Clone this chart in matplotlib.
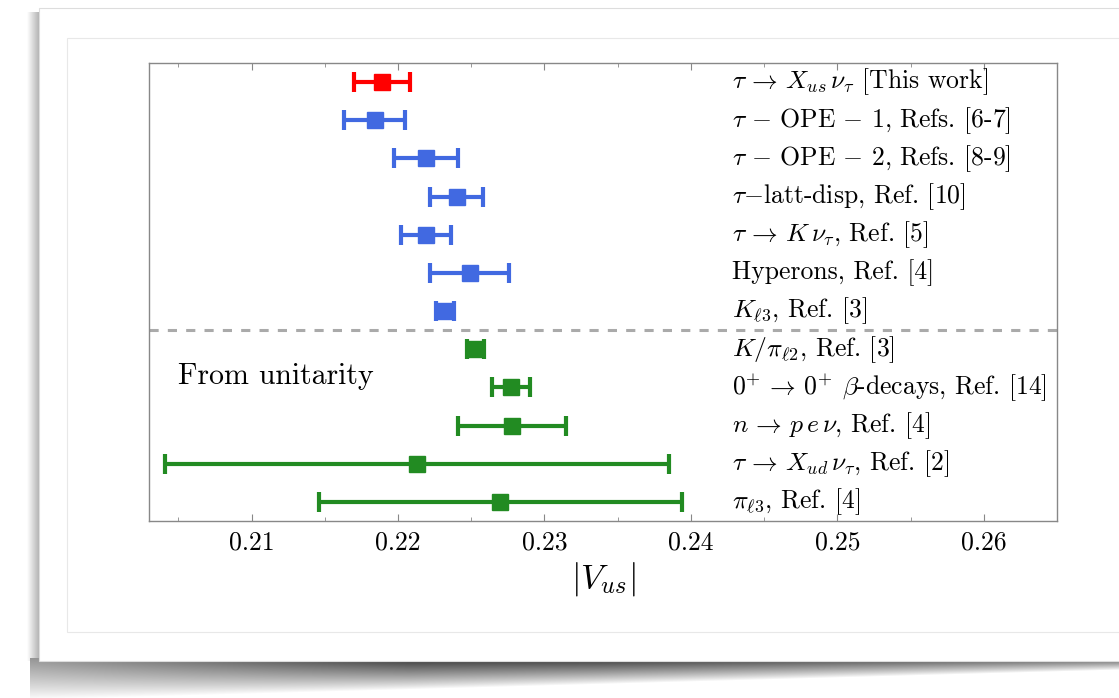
import numpy as np
import matplotlib
matplotlib.use("Agg")
from matplotlib import pyplot as plt
from matplotlib.patches import Rectangle
from matplotlib.ticker import MultipleLocator, FormatStrFormatter

plt.rcParams['font.family'] = 'serif'
plt.rcParams['font.serif'] = ['cmr10']
plt.rcParams['mathtext.fontset'] = 'cm'
plt.rcParams['axes.unicode_minus'] = False

# values
labels = [r'$\tau \,\to\, X_{us}\,\nu_\tau$ [This work]',
          r'$\tau \,-\, \mathrm{OPE} \,-\, 1$, Refs. [6-7]',
          r'$\tau \,-\, \mathrm{OPE} \,-\, 2$, Refs. [8-9]',
          r'$\tau{-}$latt-disp, Ref. [10]',
          r'$\tau \,\to\, K\,\nu_\tau$, Ref. [5]',
          'Hyperons, Ref. [4]',
          r'$K_{\ell 3}$, Ref. [3]',
          r'$K/\pi_{\ell 2}$, Ref. [3]',
          r'$0^{+} \,\to\, 0^{+}$ $\beta$-decays, Ref. [14]',
          r'$n \,\to\, p\,e\,\nu$, Ref. [4]',
          r'$\tau \,\to\, X_{ud}\,\nu_\tau$, Ref. [2]',
          r'$\pi_{\ell 3}$, Ref. [4]']
vus = [0.2189, 0.2184, 0.2219, 0.2240, 0.2219, 0.2249, 0.2232,
       0.2253, 0.2277, 0.2278, 0.2213, 0.2270]
vusErr = [0.0019, 0.0021, 0.0022, 0.0018, 0.0017, 0.0027, 0.0006,
          0.0006, 0.0013, 0.0037, 0.0172, 0.0124]
groups = ['this'] + ['direct'] * 6 + ['unitarity'] * 5
groupColors = {'this': '#ff0000', 'direct': '#4169e1', 'unitarity': '#228b22'}

W, H = 1119, 698
fig = plt.figure(figsize=(W / 100, H / 100), dpi=100)

# screenshot style card with a soft shadow behind the plot
bg = fig.add_axes([0, 0, 1, 1], zorder=-10)
px, py = np.meshgrid(np.arange(W) + 0.5, np.arange(H) + 0.5)
frac = np.clip((px - 30) / (W - 30), 0, 1)
thick = 42 - 30 * frac
dark = 0.42 + 0.38 * np.clip((px - 30) / 380, 0, 1) - 0.15 * np.clip((px - 600) / 500, 0, 1)
s = (py - 658) / thick
alpha = np.where((s >= 0) & (s <= 1) & (px >= 30), dark * (1 - s) ** 0.9, 0)
side = np.where((px >= 27) & (px < 39) & (py > 12) & (py < 661), 0.3 * (px - 27) / 12, 0)
alpha = np.maximum(alpha, side)
shadow = np.zeros((H, W, 4))
shadow[..., 3] = alpha
bg.imshow(shadow, extent=[0, W, H, 0], interpolation='bilinear')
bg.add_patch(Rectangle((39, 8), W, 653, facecolor='white', edgecolor='#dddddd', lw=0.8))
bg.add_patch(Rectangle((67, 38), W, 594, facecolor='white', edgecolor='#e8e8e8', lw=0.8))
bg.set_xlim(0, W)
bg.set_ylim(H, 0)
bg.axis('off')

ax = fig.add_axes([149 / W, 1 - 521 / H, (1057 - 149) / W, (521 - 63) / H])
rows = np.arange(len(vus))
for i in rows:
    c = groupColors[groups[i]]
    ax.errorbar(vus[i], i, xerr=vusErr[i], fmt='s', color=c, ms=11,
                elinewidth=3, capsize=7.5, capthick=3)
    ax.text(0.2428, i, labels[i], fontsize=18.5, va='center', ha='left')

ax.axhline(6.5, color='#aaaaaa', ls=(0, (3, 3)), lw=2.2)
ax.text(0.205, 7.7, 'From unitarity', fontsize=21.5, va='center', ha='left')

ax.set_xlim(0.203, 0.265)
ax.set_ylim(11.5, -0.5)
ax.set_yticks([])
ax.xaxis.set_major_locator(MultipleLocator(0.01))
ax.xaxis.set_minor_locator(MultipleLocator(0.005))
ax.xaxis.set_major_formatter(FormatStrFormatter('%.2f'))
ax.tick_params(axis='x', which='both', direction='in', top=True, color='#888888', labelsize=18.5, pad=7)
ax.tick_params(axis='x', which='major', length=5)
ax.tick_params(axis='x', which='minor', length=3)
for sp in ax.spines.values():
    sp.set_color('#888888')
    sp.set_linewidth(1)
ax.set_xlabel(r'$|V_{us}|$', fontsize=25, labelpad=4)

fig.savefig('out.png', dpi=100)
